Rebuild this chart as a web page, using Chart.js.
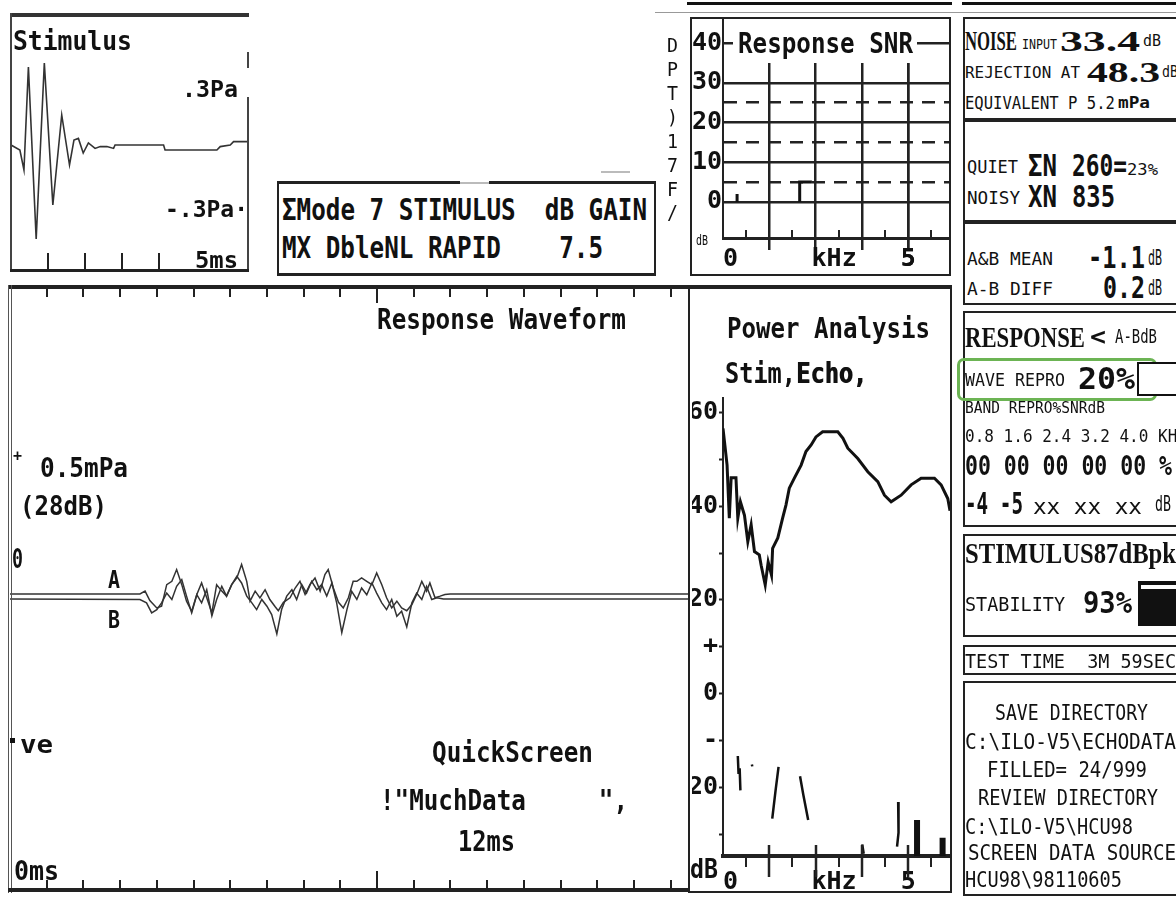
<!DOCTYPE html>
<html>
<head>
<meta charset="utf-8">
<script src="https://cdn.jsdelivr.net/npm/chart.js@4.4.1/dist/chart.umd.min.js"></script>
<style>
html, body { margin: 0; padding: 0; background: #fff; }
#page { position: relative; width: 1176px; height: 899px; overflow: hidden; background: #fff; }
.t { position: absolute; white-space: pre; line-height: 1; transform-origin: 0 0; color: #111; }
.r { position: absolute; }
</style>
</head>
<body>
<div id="page"></div>
<script>
// ---- data ----
// stimulus click (ms, Pa)
const stimTime = [0, 0.24, 0.35, 0.47, 0.68, 0.9, 1.13, 1.37, 1.58, 1.7, 1.82, 1.95, 2.09, 2.27, 2.41, 2.59, 2.77, 2.81, 4.12, 4.16, 5.56, 5.65, 5.92, 6.01, 6.41];
const stimPa = [0, -0.025, -0.125, 0.39, -0.47, 0.41, -0.3, 0.15, -0.1, 0.025, 0.033, -0.04, 0.01, -0.017, -0.008, -0.008, -0.017, 0, 0, -0.025, -0.025, -0.008, 0, 0.017, 0.017];

// response waveform A and B (ms, mPa)
const respTimeA = [0, 3.54, 3.68, 3.81, 4.0, 4.13, 4.27, 4.41, 4.54, 4.68, 4.81, 4.95, 5.09, 5.22, 5.36, 5.5, 5.63, 5.77, 5.9, 6.04, 6.18, 6.31, 6.45, 6.54, 6.68, 6.81, 6.95, 7.08, 7.22, 7.31, 7.45, 7.63, 7.77, 7.9, 8.04, 8.17, 8.31, 8.45, 8.58, 8.67, 8.81, 8.95, 9.08, 9.22, 9.35, 9.45, 9.58, 9.72, 9.86, 9.99, 10.13, 10.26, 10.4, 10.54, 10.67, 10.81, 10.95, 11.08, 11.22, 11.35, 11.44, 11.58, 11.72, 11.85, 11.99, 18.5];
const respA = [0, 0, 0.01, -0.024, -0.05, -0.044, 0.033, 0.045, 0.087, 0.033, -0.026, -0.062, -0.002, 0.039, -0.014, -0.068, 0.033, 0.01, -0.008, 0.033, 0.057, 0.105, 0.045, -0.026, 0.01, -0.014, 0.015, -0.02, -0.045, -0.06, -0.03, -0.014, 0.021, 0.045, -0.002, 0.033, 0.057, 0.01, 0.069, 0.087, 0.021, -0.03, -0.05, -0.014, 0.045, 0.045, 0.057, 0.045, 0.033, 0.075, 0.033, -0.014, -0.05, -0.026, -0.05, -0.06, -0.038, -0.002, 0.045, 0.01, 0.039, -0.014, -0.008, -0.002, 0, 0];
const respTimeB = [0, 3.54, 3.72, 3.86, 4.0, 4.13, 4.27, 4.41, 4.54, 4.68, 4.81, 4.95, 5.09, 5.22, 5.36, 5.5, 5.63, 5.77, 5.9, 6.04, 6.18, 6.31, 6.45, 6.59, 6.72, 6.86, 7.0, 7.13, 7.27, 7.4, 7.54, 7.68, 7.81, 7.95, 8.08, 8.22, 8.36, 8.49, 8.63, 8.77, 8.9, 9.04, 9.18, 9.31, 9.45, 9.58, 9.72, 9.86, 9.99, 10.13, 10.26, 10.4, 10.54, 10.67, 10.81, 10.95, 11.08, 11.22, 11.35, 11.49, 11.63, 11.81, 18.5];
const respB = [0, -0.002, -0.014, -0.05, -0.038, -0.014, 0.021, -0.002, 0.045, 0.069, 0.01, -0.05, 0.015, -0.014, 0.033, -0.06, -0.002, 0.045, 0.01, 0.051, 0.081, 0.057, 0.01, -0.014, -0.038, -0.002, -0.026, -0.056, -0.125, -0.038, 0.01, 0.033, -0.002, 0.051, 0.021, 0.063, 0.033, 0.051, 0.01, 0.057, -0.014, -0.12, -0.038, 0.027, -0.002, 0.039, 0.015, 0.057, 0.021, -0.014, -0.038, -0.002, -0.062, -0.044, -0.1, -0.014, 0.021, -0.002, 0.045, -0.002, 0.004, 0, 0];
const respMsTicks = [1, 2, 3, 4, 5, 6, 7, 8, 9, 11, 12, 13, 14, 15, 16, 17, 18];
const respMsMajor = [10];

// response SNR (kHz, dB); null = gap
const snrKHz = [0.38, 0.38, null, 2.07, 2.07, 2.4];
const snrDB = [0, 2, null, 0, 5, 5];
const snrYTicks = [0, 5, 10, 15, 20, 25, 30, 35, 40];

// power analysis: echo spectrum (kHz, dB)
const powKHz = [0.0, 0.04, 0.11, 0.17, 0.22, 0.35, 0.4, 0.47, 0.58, 0.67, 0.76, 0.85, 0.98, 1.03, 1.14, 1.22, 1.31, 1.34, 1.48, 1.61, 1.7, 1.79, 1.93, 2.11, 2.24, 2.38, 2.51, 2.69, 3.1, 3.24, 3.37, 3.64, 3.91, 4.18, 4.36, 4.54, 4.81, 5.08, 5.35, 5.71, 5.89, 6.07, 6.13];
const powDB = [56.5, 53.7, 48.7, 37.4, 46, 46, 37.4, 40.9, 38, 32.4, 36, 30.3, 29.6, 27.4, 23.2, 28.1, 25.3, 31, 33.2, 37.4, 40.2, 43.8, 46, 48.7, 51.6, 53, 54.7, 55.8, 55.8, 54.4, 52.3, 50.1, 47.3, 45.2, 42.3, 40.9, 42.3, 44.5, 45.9, 45.9, 44.5, 41.6, 39];
// noise streaks in the lower part
const noiseKHz = [0.40, 0.42, null, 0.45, 0.47, null, 0.78, 0.79, null, 1.50, 1.42, 1.33, null, 2.08, 2.17, 2.30, null, 3.76, 3.80, null, 4.73, 4.74, 4.70];
const noiseDB = [-13.2, -17.0, null, -15.8, -20.5, null, -15.0, -15.4, null, -15.5, -20.5, -26.5, null, -17.5, -21.5, -26.8, null, -32.0, -34.0, null, -23.0, -29.5, -32.5];
const barKHz = [5.24, 5.24, null, 5.93, 5.93];
const barDB = [-26.8, -34.5, null, -30.6, -34.5];
const powYTicks = [60, 50, 40, 30, 20, 10, 0, -10, -20, -30];
const powYVals = [60, 40, 20, 10, 0, -10, -20];
const powYText = ['60', '40', '20', '+', '0', '-', '20'];

// frequency axis shared by SNR and power panels
const kHzLong = [1.25, 2.5, 3.75, 5];
const kHzShort = [0.625, 1.875, 3.125, 4.375, 5.625];
const kHzLabelVals = [0, 3, 5];
const kHzLabelText = ['0', 'kHz', '5'];

// ---- helpers ----
const page = document.getElementById('page');
const MONO = "'DejaVu Sans Mono', monospace";
const SERIF = "'Liberation Serif', serif";
const INK = '#111';
const NONE = 'rgba(0,0,0,0)';
Chart.defaults.font.family = MONO;
Chart.defaults.color = INK;

const pts = (xs, ys) => xs.map((x, i) => ({ x: x === null ? 0 : x, y: ys[i] }));

function marks(list) {
  return {
    id: 'marks',
    afterDraw(chart) {
      const { ctx, chartArea: a, scales } = chart;
      ctx.save();
      ctx.strokeStyle = '#222';
      ctx.lineCap = 'butt';
      list.forEach(m => {
        const b = m.edge === 'top' ? a.top : a.bottom;
        ctx.lineWidth = m.w || 2;
        m.values.forEach(v => {
          const px = Math.round(scales.x.getPixelForValue(v));
          ctx.beginPath();
          ctx.moveTo(px, b + m.a);
          ctx.lineTo(px, b + m.b);
          ctx.stroke();
        });
      });
      ctx.restore();
    }
  };
}

function makeChart(x, y, w, h, config) {
  const c = document.createElement('canvas');
  c.width = w; c.height = h;
  c.style.cssText = `position:absolute;left:${x}px;top:${y}px;width:${w}px;height:${h}px`;
  page.appendChild(c);
  return new Chart(c, config);
}

const base = {
  responsive: false, animation: false, devicePixelRatio: 1, events: [],
  layout: { padding: 0 },
  plugins: { legend: { display: false }, tooltip: { enabled: false } }
};
const tickFont = { family: MONO, size: 25, weight: 'bold' };
const kHzLabel = v => { const i = kHzLabelVals.indexOf(v); return i < 0 ? '' : kHzLabelText[i]; };

// ---- stimulus ----
makeChart(11, 18, 237, 252, {
  type: 'line',
  data: { datasets: [{ data: pts(stimTime, stimPa), borderColor: '#333', borderWidth: 1.6, pointRadius: 0, tension: 0 }] },
  options: { ...base, scales: {
    x: { type: 'linear', display: false, min: 0, max: 6.4 },
    y: { display: false, min: -0.625, max: 0.635 }
  } },
  plugins: [marks([{ values: [1, 2, 3, 4], edge: 'bottom', a: -17, b: 0, w: 2 }])]
});

// ---- response waveform ----
makeChart(10, 289, 679, 600, {
  type: 'line',
  data: { datasets: [
    { data: pts(respTimeA, respA), borderColor: '#333', borderWidth: 1.5, pointRadius: 0, tension: 0, yAxisID: 'y' },
    { data: pts(respTimeB, respB), borderColor: '#333', borderWidth: 1.5, pointRadius: 0, tension: 0, yAxisID: 'y2' }
  ] },
  options: { ...base, scales: {
    x: { type: 'linear', display: false, min: 0, max: 18.5 },
    y: { display: false, min: -1.054, max: 1.089 },
    y2: { display: false, min: -1.036, max: 1.107 }
  } },
  plugins: [marks([
    { values: respMsTicks, edge: 'top', a: 0, b: 8, w: 2 },
    { values: respMsMajor, edge: 'top', a: 0, b: 14, w: 2 },
    { values: respMsTicks, edge: 'bottom', a: -9, b: 0, w: 2 },
    { values: respMsMajor, edge: 'bottom', a: -18, b: 0, w: 2 }
  ])]
});

// ---- response SNR ----
makeChart(692, 19, 257, 255, {
  type: 'line',
  data: { datasets: [{ data: pts(snrKHz, snrDB), borderColor: INK, borderWidth: 3, pointRadius: 0, spanGaps: false }] },
  options: { ...base, scales: {
    x: {
      type: 'linear', min: 0, max: 6.1,
      afterBuildTicks: s => { s.ticks = [0, ...kHzLong, ...kHzLabelVals.slice(1), 6.1].sort((a, b) => a - b).map(v => ({ value: v })); },
      afterFit: s => { s.height = 36; s.paddingLeft = 0; s.paddingRight = 0; },
      ticks: { autoSkip: false, maxRotation: 0, align: 'inner', padding: -6, font: tickFont, color: INK, callback: kHzLabel },
      grid: {
        drawTicks: true, tickLength: 12, lineWidth: 2.5, tickWidth: 2.5,
        color: c => c.tick && kHzLong.includes(c.tick.value) ? '#222' : NONE,
        tickColor: c => c.tick && kHzLong.includes(c.tick.value) ? '#222' : NONE
      },
      border: { display: true, width: 3, color: '#222' }
    },
    y: {
      min: -9.06, max: 46.04,
      afterBuildTicks: s => { s.ticks = snrYTicks.map(v => ({ value: v })); },
      afterFit: s => { s.width = 31; s.paddingTop = 0; s.paddingBottom = 0; },
      ticks: { autoSkip: false, padding: 1, font: tickFont, color: INK, callback: v => (v % 10 === 0 ? String(v) : '') },
      grid: { drawTicks: false, lineWidth: 2.5, color: c => (c.tick && c.tick.value === 35 ? NONE : '#222') },
      border: { display: true, width: 2, color: '#222', dash: c => (c.tick && c.tick.value % 10 !== 0 ? [13, 9] : []) }
    }
  } },
  plugins: [marks([{ values: kHzShort, edge: 'bottom', a: -8, b: 0, w: 2 }])]
});

// ---- power analysis ----
makeChart(692, 390, 258, 502, {
  type: 'line',
  data: { datasets: [
    { data: pts(powKHz, powDB), borderColor: INK, borderWidth: 3, pointRadius: 0, tension: 0 },
    { data: pts(noiseKHz, noiseDB), borderColor: INK, borderWidth: 2.5, pointRadius: 0, spanGaps: false },
    { data: pts(barKHz, barDB), borderColor: INK, borderWidth: 6, pointRadius: 0, spanGaps: false }
  ] },
  options: { ...base, layout: { padding: { top: 8 } }, scales: {
    x: {
      type: 'linear', min: 0, max: 6.13,
      afterBuildTicks: s => { s.ticks = [...kHzLabelVals, 6.13].map(v => ({ value: v })); },
      afterFit: s => { s.height = 36; s.paddingLeft = 0; s.paddingRight = 0; },
      ticks: { autoSkip: false, maxRotation: 0, align: 'inner', padding: 3, font: tickFont, color: INK, callback: kHzLabel },
      grid: { display: false },
      border: { display: true, width: 4, color: '#222' }
    },
    y: {
      min: -34.47, max: 62.98,
      afterBuildTicks: s => { s.ticks = powYTicks.map(v => ({ value: v })); },
      afterFit: s => { s.width = 31; s.paddingTop = 0; s.paddingBottom = 0; },
      ticks: { autoSkip: false, padding: 1, font: tickFont, color: INK, callback: v => { const i = powYVals.indexOf(v); return i < 0 ? '' : powYText[i]; } },
      grid: { drawOnChartArea: false, drawTicks: true, tickLength: 4, tickWidth: 2, tickColor: '#222' },
      border: { display: true, width: 2, color: '#222' }
    }
  } },
  plugins: [marks([
    { values: kHzLong, edge: 'bottom', a: -11, b: 21, w: 2.5 },
    { values: kHzShort, edge: 'bottom', a: 1, b: 11, w: 2 }
  ])]
});

// ---- frames and rules ----
const rects = [
  [687, 2, 265, 3, INK], [962, 2, 214, 3, INK], [655, 12, 521, 1, '#999'],
  // stimulus box
  [10, 13, 239, 4, '#333'], [10, 13, 2, 259, '#444'], [247, 52, 2, 16, '#444'], [247, 97, 2, 174, '#444'], [10, 269, 239, 3, '#222'],
  // mode box
  [277, 181, 183, 3, '#222'], [460, 182, 29, 2, '#bbb'], [489, 181, 167, 3, '#222'],
  [277, 181, 2, 95, '#222'], [654, 181, 2, 95, '#222'], [277, 273, 379, 3, '#222'], [601, 171, 29, 2, '#bbb'],
  // SNR box
  [690, 17, 261, 2, '#222'], [690, 17, 2, 259, '#222'], [949, 17, 2, 259, '#222'], [690, 274, 261, 2, '#222'],
  [733, 19, 184, 44, '#fff'],
  // response + power frames
  [8, 285, 944, 4, '#222'], [8, 285, 1, 608, '#555'], [11, 285, 1, 608, '#555'], [8, 888, 682, 4, '#222'],
  [688, 285, 2, 608, '#222'], [950, 285, 2, 608, '#222'], [688, 891, 264, 2, '#222'],
  [10, 738, 5, 5, INK],
  // small indicators
  [1138, 581, 38, 45, '#111'], [1141, 585, 35, 4, '#fff']
];
const boxes = [[17, 120], [120, 222], [222, 305], [311, 527], [534, 637], [645, 675], [681, 896]];
boxes.forEach(([t, b]) => {
  rects.push([963, t, 213, 2, '#222'], [963, b - 2, 213, 2, '#222'], [963, t, 2, b - t, '#222']);
});
rects.forEach(([x, y, w, h, c]) => {
  const d = document.createElement('div');
  d.className = 'r';
  d.style.cssText += `left:${x}px;top:${y}px;width:${w}px;height:${h}px;background:${c}`;
  page.appendChild(d);
});
const green = document.createElement('div');
green.className = 'r';
green.style.cssText += 'left:957px;top:358px;width:194px;height:37px;border:3px solid #6cb454;border-radius:7px';
page.appendChild(green);
const ind = document.createElement('div');
ind.className = 'r';
ind.style.cssText += 'left:1137px;top:362px;width:40px;height:30px;border:2px solid #111;background:#fff';
page.appendChild(ind);

// ---- texts: [string, left, capCentre, capHeight, width, style] ----
const texts = [
  ['Stimulus', 13, 40, 20, 119, 'b'], ['.3Pa', 182, 88, 17, 56, 'b'], ['-.3Pa·', 165, 208, 17, 83, 'b'], ['5ms', 195, 259, 17, 43, 'b'],
  ['ΣMode 7 STIMULUS  dB GAIN', 282, 210, 22, 365, 'b'], ['MX DbleNL RAPID    7.5', 282, 248, 22, 321, 'b'],
  ['D', 667, 45, 14, 11, 'n'], ['P', 667, 69, 14, 11, 'n'], ['T', 667, 93, 14, 11, 'n'], [')', 667, 117, 14, 11, 'n'],
  ['1', 667, 141, 14, 11, 'n'], ['7', 667, 165, 14, 11, 'n'], ['F', 667, 189, 14, 11, 'n'], ['/', 667, 212, 14, 11, 'n'],
  ['Response SNR', 738, 43, 21, 175, 'b'], ['dB', 696, 241, 10, 12, 'n'],
  ['Power Analysis', 727, 328, 21, 203, 'b'], ['Stim,', 725, 373, 21, 71, 'b'], ['Echo,', 796, 373, 21, 71, 'h'], ['dB', 690, 868, 20, 28, 'b'],
  ['Response Waveform', 377, 319, 21, 249, 'b'], ['+', 13, 456, 12, 9, 'b'], ['0.5mPa', 40, 467, 20, 88, 'b'], ['(28dB)', 20, 505, 20, 87, 'b'],
  ['0', 12, 558, 20, 11, 'b'], ['A', 108, 580, 18, 12, 'b'], ['B', 108, 620, 18, 12, 'b'], ['ve', 20, 745, 18, 33, 'b'],
  ['QuickScreen', 432, 752, 21, 161, 'b'], ['!"MuchData     ",', 380, 800, 21, 248, 'b'], ['12ms', 458, 841, 21, 57, 'b'], ['0ms', 14, 870, 20, 45, 'b'],
  ['NOISE', 965, 41, 18, 52, 's'], ['INPUT', 1022, 45, 10, 35, 'n'], ['33.4', 1060, 41, 19, 80, 's'], ['dB', 1143, 41, 12, 18, 'n'],
  ['REJECTION AT', 965, 73, 12, 115, 'n'], ['48.3', 1087, 72, 19, 73, 's'], ['dB', 1162, 72, 12, 16, 'n'],
  ['EQUIVALENT P 5.2', 965, 103, 13, 150, 'n'], ['mPa', 1118, 103, 12, 32, 'b'],
  ['QUIET', 967, 167, 13, 51, 'n'], ['ΣN', 1028, 166, 22, 29, 'b'], ['260=', 1072, 166, 22, 55, 'b'], ['23%', 1127, 170, 11, 31, 'n'],
  ['NOISY', 967, 198, 13, 53, 'n'], ['XN', 1028, 197, 22, 29, 'b'], ['835', 1072, 197, 22, 43, 'b'],
  ['A&B MEAN', 967, 259, 13, 86, 'n'], ['-1.1', 1088, 258, 22, 57, 'b'], ['dB', 1148, 258, 15, 14, 'n'],
  ['A-B DIFF', 967, 289, 13, 86, 'n'], ['0.2', 1103, 288, 22, 42, 'b'], ['dB', 1148, 288, 15, 14, 'n'],
  ['RESPONSE', 965, 337, 20, 120, 's'], ['<', 1090, 337, 18, 16, 'b'], ['A-BdB', 1115, 336, 14, 42, 'n'],
  ['WAVE REPRO', 965, 380, 13, 100, 'n'], ['20%', 1078, 379, 22, 57, 'b'],
  ['BAND REPRO%SNRdB', 965, 408, 12, 140, 'n'], ['0.8 1.6 2.4 3.2 4.0 KHz', 965, 436, 13, 222, 'n'],
  ['00 00 00 00 00 %', 965, 465, 20, 207, 'b'], ['-4 -5', 965, 504, 22, 58, 'b'], ['xx xx xx', 1033, 507, 15, 109, 'n'], ['dB', 1155, 504, 16, 16, 'n'],
  ['STIMULUS87dBpk', 965, 553, 20, 211, 's'], ['STABILITY', 965, 604, 14, 100, 'n'], ['93%', 1083, 603, 22, 49, 'b'],
  ['TEST TIME  3M 59SEC', 965, 661, 14, 211, 'n'],
  ['SAVE DIRECTORY', 995, 713, 15, 153, 'n'], ['C:\\ILO-V5\\ECHODATA', 965, 742, 15, 211, 'n'], ['FILLED= 24/999', 987, 770, 15, 160, 'n'],
  ['REVIEW DIRECTORY', 978, 798, 15, 180, 'n'], ['C:\\ILO-V5\\HCU98', 965, 827, 15, 168, 'n'], ['SCREEN DATA SOURCE', 968, 853, 15, 208, 'n'],
  ['HCU98\\98110605', 965, 880, 15, 157, 'n']
];

texts.forEach(([str, x, yc, capH, w, st]) => {
  const serif = st === 's';
  const s = capH / (serif ? 0.66 : 0.73);
  const el = document.createElement('div');
  el.className = 't';
  el.textContent = str;
  el.style.fontFamily = serif ? SERIF : MONO;
  el.style.fontSize = s + 'px';
  el.style.fontWeight = st === 'n' ? 'normal' : 'bold';
  if (st === 'h') el.style.textShadow = '1px 0 0 #111';
  el.style.left = x + 'px';
  el.style.top = (yc - 0.49 * s) + 'px';
  page.appendChild(el);
  const nat = el.getBoundingClientRect().width;
  el.style.transform = `scaleX(${w / nat})`;
});
</script>
</body>
</html>
